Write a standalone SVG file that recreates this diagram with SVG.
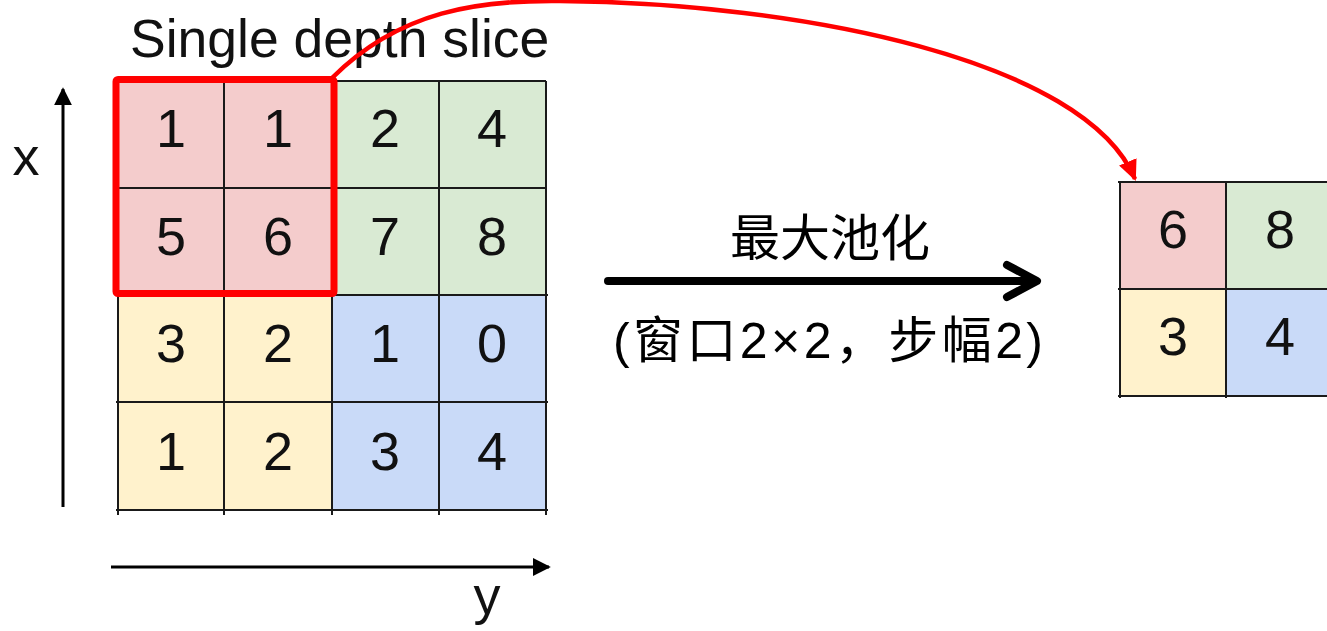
<svg xmlns="http://www.w3.org/2000/svg" width="1327" height="631" viewBox="0 0 1327 631">
<defs>
<style>
.pk{fill:#f4cccc}.gr{fill:#d9ead3}.ye{fill:#fff2cc}.bl{fill:#c9daf8}
.gl{stroke:#1a1a1a;stroke-width:2;fill:none}
.num{font-family:"Liberation Sans",Arial,sans-serif;font-size:54px;fill:#111;text-anchor:middle}
.lbl{font-family:"Liberation Sans",Arial,sans-serif;fill:#111}
.cjk{font-family:"Liberation Sans","Noto Sans CJK SC",sans-serif;font-size:50px;fill:#000;text-anchor:middle}
</style>
<marker id="ax" viewBox="0 0 10 10" refX="9" refY="5" markerWidth="6" markerHeight="6" markerUnits="strokeWidth" orient="auto">
<path d="M0,0 L10,5 L0,10 Z" fill="#000"/>
</marker>
<marker id="redhead" viewBox="0 0 10 10" refX="9" refY="5" markerWidth="4.6" markerHeight="4.2" markerUnits="strokeWidth" orient="auto" preserveAspectRatio="none">
<path d="M0,0 L10,5 L0,10 Z" fill="#f00"/>
</marker>
</defs>
<rect width="1327" height="631" fill="#fff"/>

<g id="title">
<text class="lbl" x="130" y="57" font-size="53.5">Single depth slice</text>
</g>

<g id="input-grid">
<rect class="pk" x="118" y="80" width="214" height="215"/>
<rect class="gr" x="332" y="80" width="214" height="215"/>
<rect class="ye" x="118" y="295" width="214" height="215"/>
<rect class="bl" x="332" y="295" width="214" height="215"/>
<path class="gl" d="M118,81H546M118,188H546M116,295H548M116,402H548M116,510H548M118,81V515M224,81V515M332,81V515M439,81V515M546,81V515"/>
<text class="num" x="171" y="147">1</text><text class="num" x="278" y="147">1</text><text class="num" x="385" y="147">2</text><text class="num" x="492" y="147">4</text>
<text class="num" x="171" y="255">5</text><text class="num" x="278" y="255">6</text><text class="num" x="385" y="255">7</text><text class="num" x="492" y="255">8</text>
<text class="num" x="171" y="362">3</text><text class="num" x="278" y="362">2</text><text class="num" x="385" y="362">1</text><text class="num" x="492" y="362">0</text>
<text class="num" x="171" y="470">1</text><text class="num" x="278" y="470">2</text><text class="num" x="385" y="470">3</text><text class="num" x="492" y="470">4</text>
</g>

<g id="window">
<rect x="116" y="79.5" width="218" height="214" rx="2" fill="none" stroke="#f00" stroke-width="7"/>
</g>

<g id="axis-labels">
<text class="lbl" x="26" y="175" font-size="54" text-anchor="middle">x</text>
<text class="lbl" x="487" y="614" font-size="54" text-anchor="middle">y</text>
</g>

<g id="output-grid">
<rect class="pk" x="1120" y="182" width="106" height="107"/>
<rect class="gr" x="1226" y="182" width="107" height="107"/>
<rect class="ye" x="1120" y="289" width="106" height="107"/>
<rect class="bl" x="1226" y="289" width="107" height="107"/>
<path class="gl" d="M1118,182H1327M1118,289H1327M1118,396H1327M1120,182V398M1226,182V398"/>
<text class="num" x="1173" y="248">6</text><text class="num" x="1280" y="248">8</text>
<text class="num" x="1173" y="355">3</text><text class="num" x="1280" y="355">4</text>
</g>

<g id="op-label">
<text class="cjk" x="830" y="256">最大池化</text>
<text class="cjk" x="828" y="358" textLength="430" lengthAdjust="spacing">(窗口2×2，步幅2)</text>
</g>

<g id="connectors">
<line x1="63" y1="507" x2="63" y2="89" stroke="#000" stroke-width="3" marker-end="url(#ax)"/>
<line x1="111" y1="567" x2="549" y2="567" stroke="#000" stroke-width="3" marker-end="url(#ax)"/>
<path d="M332,78 C400,10 480,0 560,1 C800,3 1085,60 1135,179" fill="none" stroke="#f00" stroke-width="4.5" marker-end="url(#redhead)"/>
<line x1="608" y1="281" x2="1034" y2="281" stroke="#000" stroke-width="8" stroke-linecap="round"/>
<path d="M1007,265 L1037,281 L1007,297" fill="none" stroke="#000" stroke-width="8" stroke-linecap="round" stroke-linejoin="round"/>
</g>
</svg>
